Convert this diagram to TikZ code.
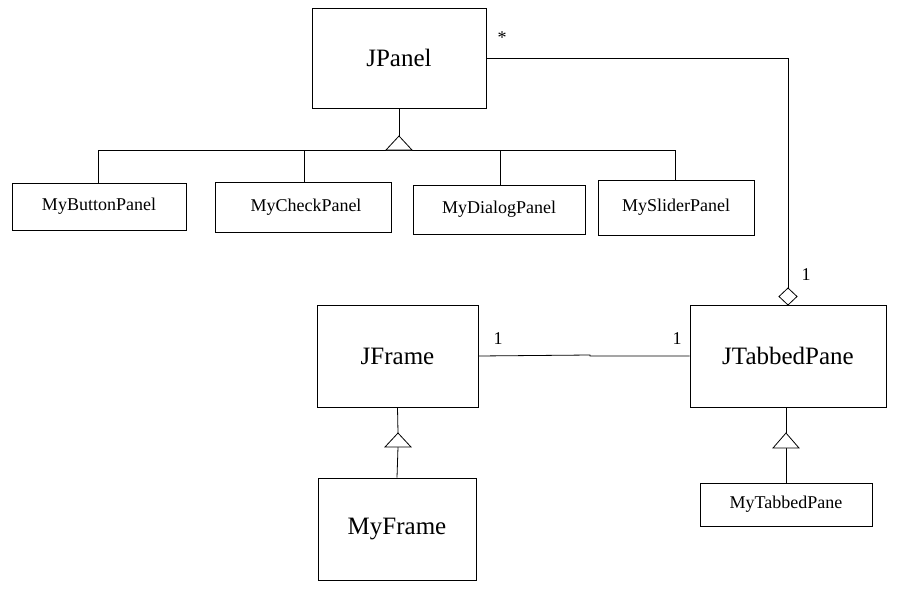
\documentclass[tikz,border=0pt]{standalone}
\usepackage{fontspec}
\setmainfont{Liberation Serif}
\begin{document}
\begin{tikzpicture}[x=1pt,y=-1pt,
  box/.style={draw,thick,rectangle,inner sep=0pt},
  big/.style={font=\fontsize{25}{28}\selectfont},
  small/.style={font=\fontsize{18}{20}\selectfont},
  lbl/.style={font=\fontsize{18}{20}\selectfont},
  tri/.style={draw,thick,fill=white},
  every path/.style={thick}]
\useasboundingbox (0,0) rectangle (900,600);
\node[box,big,minimum width=174pt,minimum height=100pt] (jpanel) at (399,58) {JPanel};
\node[box,small,minimum width=174pt,minimum height=47pt] (b1) at (99,206.5) {MyButtonPanel};
\node[box,small,minimum width=176pt,minimum height=50pt] (b2) at (303,207) {\hspace{6pt}MyCheckPanel};
\node[box,small,minimum width=172pt,minimum height=49pt] (b3) at (499,209.5) {MyDialogPanel};
\node[box,small,minimum width=156pt,minimum height=55pt] (b4) at (676,207.5) {MySliderPanel};
\node[box,big,minimum width=161pt,minimum height=102pt] (jframe) at (397.5,356) {JFrame};
\node[box,big,minimum width=196pt,minimum height=102pt] (jtab) at (788,356) {JTabbedPane};
\node[box,big,minimum width=158pt,minimum height=102pt] (myframe) at (397,529) {MyFrame};
\node[box,small,minimum width=172pt,minimum height=43pt] (mytab) at (786,504.5) {MyTabbedPane};

% generalization JPanel
\coordinate (t1) at (399,136);
\draw (jpanel.south) -- (t1);
\draw (98,150) -- (675,150);
\draw (98,150) -- (98,183);
\draw (304,150) -- (304,182);
\draw (500,150) -- (500,185);
\draw (675,150) -- (675,180);
\draw[tri] (t1) -- (386,150) -- (412,150) -- cycle;

% aggregation
\coordinate (d) at (788,288);
\draw (jpanel.east |- 0,58) -- (788,58) -- (d);
\draw[fill=white] (d) -- (797,296.5) -- (788,305) -- (779,296.5) -- cycle;
\node[lbl] at (502,38) {*};
\node[lbl] at (806,275) {1};

% association
\draw (jframe.east) -- (590,355) -- (590,356) -- (jtab.west);
\node[lbl] at (498,339) {1};
\node[lbl] at (677,339) {1};

% generalization JFrame
\coordinate (t2) at (398,433);
\draw (myframe.north) -- (398,447);
\draw (jframe.south) -- (t2);
\draw[tri] (t2) -- (385,447) -- (411,447) -- cycle;

% generalization JTabbedPane
\coordinate (t3) at (786,433);
\draw (mytab.north) -- (786,448);
\draw (786,407) -- (t3);
\draw[tri] (t3) -- (773,448) -- (799,448) -- cycle;
\end{tikzpicture}
\end{document}
